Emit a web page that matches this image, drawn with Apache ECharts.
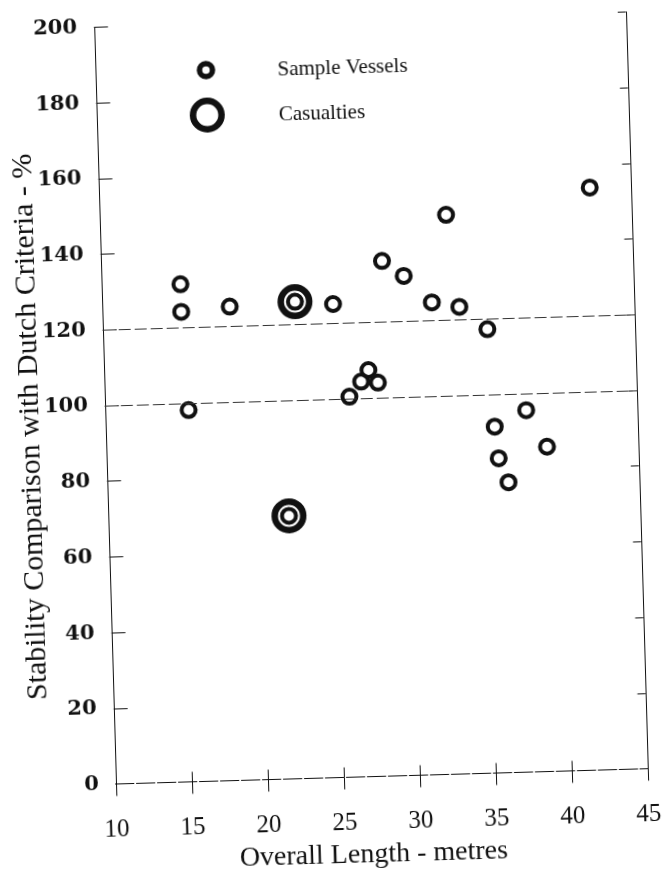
<!DOCTYPE html>
<html>
<head>
<meta charset="utf-8">
<script src="https://cdn.jsdelivr.net/npm/echarts@6/dist/echarts.min.js"></script>
<style>
  html, body { margin: 0; padding: 0; background: #fff; overflow: hidden; }
  #chart {
    width: 666px; height: 877px;
    transform: rotate(-1.65deg);
    transform-origin: 370.75px 398px;
  }
</style>
</head>
<body>
<div id="chart"></div>
<script>
// Overall length (m) and stability relative to the Dutch criteria (%)
const sampleLength    = [15.2, 15.2, 18.4, 25.2, 28.5, 29.9, 32.8, 31.7, 33.5, 15.5, 27.4, 26.9, 28.0, 26.1, 42.3, 35.3, 37.7, 35.6, 39.0, 35.8, 36.4];
const sampleStability = [131.5, 124.2, 125.2, 125.1, 136.1, 132.0, 147.8, 124.8, 123.4, 98.2, 107.4, 104.4, 104.0, 100.5, 153.9, 117.3, 95.6, 91.5, 85.8, 83.1, 76.7];

const casualtyLength    = [22.7, 21.9];
const casualtyStability = [126.0, 69.5];

// Reference levels drawn across the plot
const referenceLevels = [100, 120];

const legendLabels = ['Sample Vessels', 'Casualties'];

const ink = '#111';
const serif = '"Liberation Serif", "Times New Roman", serif';
const numSerif = '"DejaVu Serif", serif';

const samplePoints = sampleLength.map((x, i) => [x, sampleStability[i]]);
const casualtyPoints = casualtyLength.map((x, i) => [x, casualtyStability[i]]);

const chart = echarts.init(document.getElementById('chart'), null, { renderer: 'canvas' });

const gridLeft = 104.75, gridTop = 19.5, gridRight = 666 - 636.75, gridBottom = 877 - 776.5;

chart.setOption({
  animation: false,
  backgroundColor: '#fff',
  grid: {
    left: gridLeft, top: gridTop, right: gridRight, bottom: gridBottom,
    containLabel: false, outerBoundsMode: 'none'
  },
  xAxis: [
    {
      type: 'value', min: 10, max: 45, interval: 5, position: 'bottom',
      name: 'Overall Length - metres', nameLocation: 'middle', nameGap: 64,
      nameTextStyle: { fontFamily: serif, fontSize: 28, color: ink, padding: [0, 20, 0, 0] },
      axisLine: { show: true, lineStyle: { color: ink, width: 1, type: [18, 3] } },
      axisTick: { show: true, inside: true, length: 10, lineStyle: { color: ink } },
      axisLabel: { margin: 33, fontFamily: serif, fontSize: 25, color: ink },
      splitLine: { show: false }
    },
    {
      type: 'value', min: 10, max: 45, interval: 5, position: 'top',
      axisLine: { show: true, lineStyle: { color: ink, width: 1, type: [18, 3] } },
      axisTick: { show: true, inside: true, length: 12, lineStyle: { color: ink } },
      axisLabel: { show: false },
      splitLine: { show: false }
    }
  ],
  yAxis: [
    {
      type: 'value', min: 0, max: 200, interval: 20, position: 'left',
      name: 'Stability Comparison with Dutch Criteria - %', nameLocation: 'middle',
      nameGap: 60, nameMoveOverlap: false,
      nameTextStyle: { fontFamily: serif, fontSize: 30, color: ink, padding: [0, 38, 0, 0] },
      axisLine: { show: true, lineStyle: { color: ink, width: 1 } },
      axisTick: { show: true, inside: true, length: 14, lineStyle: { color: ink } },
      axisLabel: { margin: 17, fontFamily: numSerif, fontWeight: 'bold', fontSize: 21, color: ink },
      splitLine: { show: false }
    },
    {
      type: 'value', min: 0, max: 200, interval: 20, position: 'right',
      axisLine: { show: true, lineStyle: { color: ink, width: 1 } },
      axisTick: { show: true, inside: true, length: 8, lineStyle: { color: ink } },
      axisLabel: { show: false },
      splitLine: { show: false }
    }
  ],
  series: [
    {
      name: legendLabels[1], type: 'scatter', xAxisIndex: 0, yAxisIndex: 0,
      data: casualtyPoints, symbol: 'circle', symbolSize: 28.5, z: 3,
      itemStyle: { color: 'rgba(0,0,0,0)', borderColor: ink, borderWidth: 6.5, opacity: 1 },
      emphasis: { disabled: true }
    },
    {
      name: legendLabels[0], type: 'scatter', xAxisIndex: 0, yAxisIndex: 0,
      data: samplePoints.concat(casualtyPoints), symbol: 'circle', symbolSize: 14, z: 4,
      itemStyle: { color: 'rgba(0,0,0,0)', borderColor: ink, borderWidth: 4, opacity: 1 },
      emphasis: { disabled: true },
      markLine: {
        silent: true, symbol: 'none', label: { show: false },
        lineStyle: { color: '#333', width: 1, type: [12, 4], opacity: 1 },
        data: referenceLevels.map(v => ({ yAxis: v }))
      }
    }
  ],
  graphic: [
    { type: 'circle', shape: { cx: 215.5, cy: 65.5, r: 6.5 }, style: { fill: 'none', stroke: ink, lineWidth: 5.5 } },
    { type: 'circle', shape: { cx: 215.5, cy: 110.5, r: 14.25 }, style: { fill: 'none', stroke: ink, lineWidth: 6.5 } },
    { type: 'text', left: 287, top: 57, style: { text: legendLabels[0], font: '21px ' + serif, fill: ink } },
    { type: 'text', left: 287, top: 102, style: { text: legendLabels[1], font: '21px ' + serif, fill: ink } }
  ]
});
</script>
</body>
</html>
